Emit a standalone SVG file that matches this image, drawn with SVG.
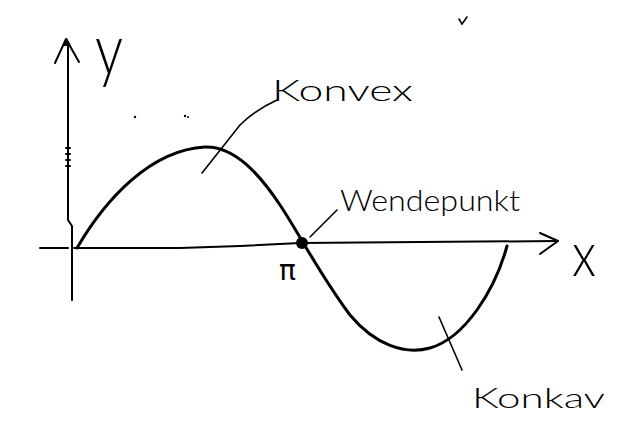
<svg xmlns="http://www.w3.org/2000/svg" width="624" height="429" viewBox="0 0 624 429">
<style>
.ax{fill:none;stroke:#000;stroke-width:2;stroke-linecap:round;stroke-linejoin:round}
.cv{fill:none;stroke:#000;stroke-width:3;stroke-linecap:round}
.ld{fill:none;stroke:#000;stroke-width:1.6;stroke-linecap:round}
.hw{font-family:Lato,"Liberation Sans",sans-serif;font-weight:300;fill:#000}
</style>
<rect width="624" height="429" fill="#fff"/>
<g id="axes">
<path class="ax" d="M68,45 L68,220 L72,226 L72,300"/>
<path class="ax" d="M55,63 L66,39 L79,62"/>
<path d="M63,46 L67,38 L71,46 Z" fill="#000"/>
<path class="ax" d="M40,248 L68,248"/>
<path class="ax" d="M74,248 L180,248 L240,246 L300,243 L558,241"/>
<path class="ax" d="M540,233 L558,241 L540,254"/>
<path class="ax" d="M66,148 L70,148 M66,154 L70,154 M66,160 L70,160 M66,166 L70,166" stroke-width="1.5"/>
</g>
<g id="curve">
<path class="cv" d="M77,248 C105,200 150,150 205,147 C235,146 260,175 280,205 C300,235 320,275 350,315 C375,345 405,355 430,348 C465,338 495,290 507,246"/>
</g>
<g id="wendepunkt-dot">
<circle cx="302" cy="243" r="6" fill="#000"/>
</g>
<g id="connectors">
<path class="ld" d="M202,173 L240,125 Q255,110 277,100"/>
<path class="ld" d="M310,237 L337,210"/>
<path class="ld" d="M439,317 L462,370"/>
</g>
<g id="labels">
<text class="hw" x="95" y="74" font-size="70" textLength="28" lengthAdjust="spacingAndGlyphs">y</text>
<text class="hw" x="572" y="276" font-size="62" textLength="24" lengthAdjust="spacingAndGlyphs">x</text>
<text x="279" y="280" font-size="28" font-family="'DejaVu Sans',sans-serif" fill="#000">π</text>
<text class="hw" x="272" y="101" font-size="30" textLength="141" lengthAdjust="spacingAndGlyphs">Konvex</text>
<text class="hw" x="340" y="211" font-size="30" textLength="180" lengthAdjust="spacingAndGlyphs">Wendepunkt</text>
<text class="hw" x="472" y="408" font-size="28" textLength="133" lengthAdjust="spacingAndGlyphs">Konkav</text>
</g>
<g id="marks">
<circle cx="135" cy="117" r="1.2" fill="#000"/>
<circle cx="185" cy="116" r="1.2" fill="#000"/>
<circle cx="188" cy="117" r="1" fill="#000"/>
<path class="ld" d="M459,19 L462,24 L467,17"/>
</g>
</svg>
